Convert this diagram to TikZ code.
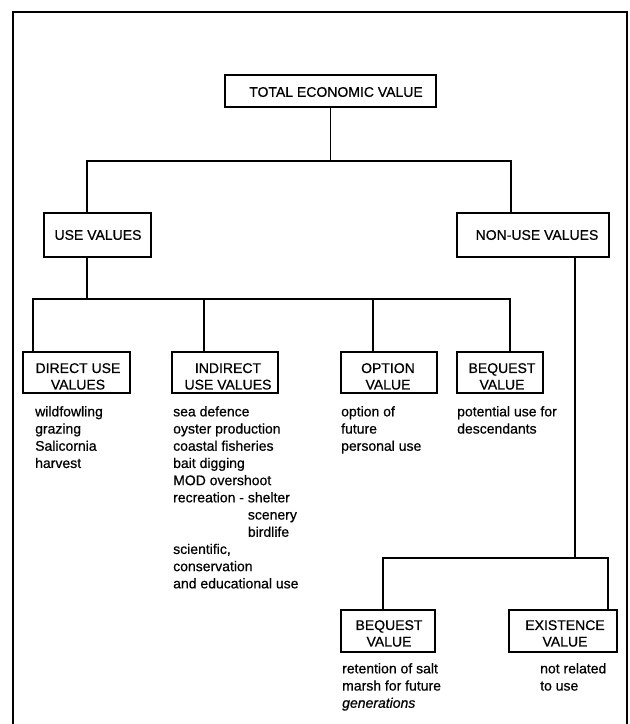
\documentclass[tikz,border=0pt]{standalone}
\usepackage{fontspec}
\setmainfont{Liberation Sans}[FakeBold=0.6]
\begin{document}
\begin{tikzpicture}[x=1pt,y=-1pt,
  ln/.style={line width=1.2pt},
  bx/.style={draw,line width=1.2pt,inner sep=0pt,outer sep=0pt},
  txt/.style={inner sep=0pt,font=\fontsize{14}{17}\selectfont},
  txt2/.style={inner sep=0pt,anchor=north,align=center,font=\fontsize{14}{16.5}\selectfont},
  lst/.style={inner sep=0pt,anchor=north west,align=left,font=\fontsize{14}{17.2}\selectfont}]
\useasboundingbox (0,0) rectangle (630,724);
% frame
\draw[ln] (13,724) -- (13,12) -- (627,12) -- (627,724);
% top level
\node[bx,minimum width=211,minimum height=32] (tev) at (330.5,91) {};
\node[txt] (tevt) at (336,92) {TOTAL ECONOMIC VALUE};
\node[bx,minimum width=107,minimum height=44] (use) at (97.5,235) {};
\node[txt] (uset) at (98,235) {USE VALUES};
\node[bx,minimum width=152,minimum height=44] (non) at (533,235) {};
\node[txt] (nont) at (537,235) {NON-USE VALUES};
% use sub boxes
\node[bx,minimum width=107,minimum height=41] (dir) at (76.5,372.5) {};
\node[txt2] (dirt) at (78,363) {DIRECT USE\\VALUES};
\node[bx,minimum width=106,minimum height=41] (ind) at (225,372.5) {};
\node[txt2] (indt) at (228,363) {INDIRECT\\USE VALUES};
\node[bx,minimum width=96,minimum height=41] (opt) at (389,372.5) {};
\node[txt2] (optt) at (388,363) {OPTION\\VALUE};
\node[bx,minimum width=86,minimum height=41] (beq) at (500,372.5) {};
\node[txt2] (beqt) at (502,363) {BEQUEST\\VALUE};
% non-use sub boxes
\node[bx,minimum width=94,minimum height=42] (beqb) at (388,631) {};
\node[txt2] (beqbt) at (389,620) {BEQUEST\\VALUE};
\node[bx,minimum width=108,minimum height=42] (ex) at (563,631) {};
\node[txt2] (ext) at (565,620) {EXISTENCE\\VALUE};
% lists
\node[lst] (dirl) at (35,406) {wildfowling\\grazing\\Salicornia\\harvest};
\node[lst] (indl) at (173,406) {sea defence\\oyster production\\coastal fisheries\\bait digging\\MOD overshoot\\recreation - shelter\\\phantom{recreation - }scenery\\\phantom{recreation - }birdlife\\scientific,\\conservation\\and educational use};
\node[lst] (optl) at (341,406) {option of\\future\\personal use};
\node[lst] (beql) at (457,406) {potential use for\\descendants};
\node[lst] (beqbl) at (342,663) {retention of salt\\marsh for future\\\textit{generations}};
\node[lst] (exl) at (540,663) {not related\\to use};
% connectors
\coordinate (j1) at (331,161);
\draw[ln] (tev.south) -- (tev.south |- j1);
\coordinate (ua) at (87,213);
\coordinate (na) at (511,213);
\draw[ln] (ua) -- (ua |- j1) -- (na |- j1) -- (na);
\coordinate (ub) at (87,257);
\coordinate (j2) at (87,299);
\draw[ln] (ub) -- (j2);
\coordinate (da) at (33,352);
\coordinate (ia) at (204,352);
\coordinate (oa) at (373,352);
\coordinate (ba) at (510,352);
\draw[ln] (da) -- (da |- j2) -- (ba |- j2) -- (ba);
\draw[ln] (ia) -- (ia |- j2);
\draw[ln] (oa) -- (oa |- j2);
\coordinate (nb) at (575,257);
\coordinate (j3) at (575,558);
\draw[ln] (nb) -- (j3);
\coordinate (b2a) at (383,610);
\coordinate (ea) at (608,610);
\draw[ln] (b2a) -- (b2a |- j3) -- (ea |- j3) -- (ea);
\end{tikzpicture}
\end{document}
